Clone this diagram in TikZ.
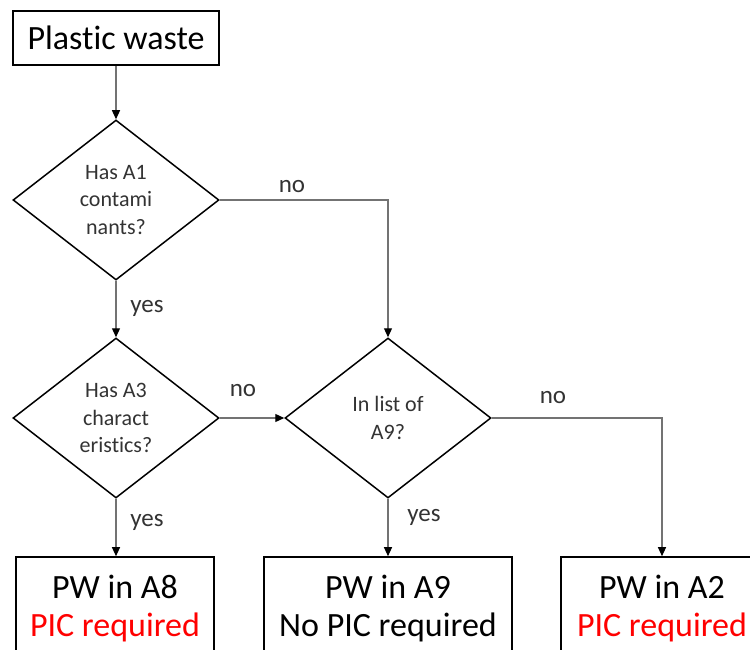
\documentclass[tikz,border=0pt]{standalone}
\usepackage{fontspec}
\setmainfont[Ligatures=NoCommon]{Carlito}
\usetikzlibrary{shapes.geometric,arrows.meta}
\begin{document}
\begin{tikzpicture}[x=1pt,y=-1pt,
  box/.style={draw=black, line width=1.6pt, inner sep=0pt, align=center, font=\fontsize{34}{38}\selectfont},
  dec/.style={draw=black, shape=diamond, line width=1.5pt, inner sep=0pt, minimum width=206pt, minimum height=160pt, aspect=1.2875, align=center, font=\fontsize{22}{27.5}\selectfont, text=black!80},
  conn/.style={draw=black!55, line width=1.2pt, -{Triangle[length=9pt,width=8pt,color=black]}},
  lab/.style={font=\fontsize{25}{28}\selectfont, text=black!80, inner sep=0pt}]
\useasboundingbox (0,0) rectangle (750,650);
\clip (0,0) rectangle (750,650);
\node[box, minimum width=206pt, minimum height=54pt] (pw) at (116,38) {Plastic waste};
\node[dec] (d1) at (116,200) {Has A1\\contami\\nants?};
\node[dec] (d2) at (116,418) {Has A3\\charact\\eristics?};
\node[dec] (d3) at (388,418) {In list of\\A9?};
\node[box, minimum width=198pt, minimum height=103pt] (b1) at (115,608.5) {PW in A8\\\textcolor{red}{PIC required}};
\node[box, minimum width=248pt, minimum height=103pt] (b2) at (388,608.5) {PW in A9\\No PIC required};
\node[box, minimum width=202pt, minimum height=103pt] (b3) at (662,608.5) {PW in A2\\\textcolor{red}{PIC required}};
\draw[conn] (pw.south) -- (d1.north);
\draw[conn] (d1.south) -- (d2.north);
\draw[conn] (d2.south) -- (d2.south |- b1.north);
\draw[conn] (d1.east) -| (d3.north);
\draw[conn] (d2.east) -- (d3.west);
\draw[conn] (d3.south) -- (b2.north);
\draw[conn] (d3.east) -| (b3.north);
\node[lab] (l1) at (292,187) {no};
\node[lab] (l2) at (147,308) {yes};
\node[lab] (l3) at (243,391) {no};
\node[lab] (l4) at (147,522) {yes};
\node[lab] (l5) at (553,398) {no};
\node[lab] (l6) at (424,517) {yes};
\end{tikzpicture}
\end{document}
